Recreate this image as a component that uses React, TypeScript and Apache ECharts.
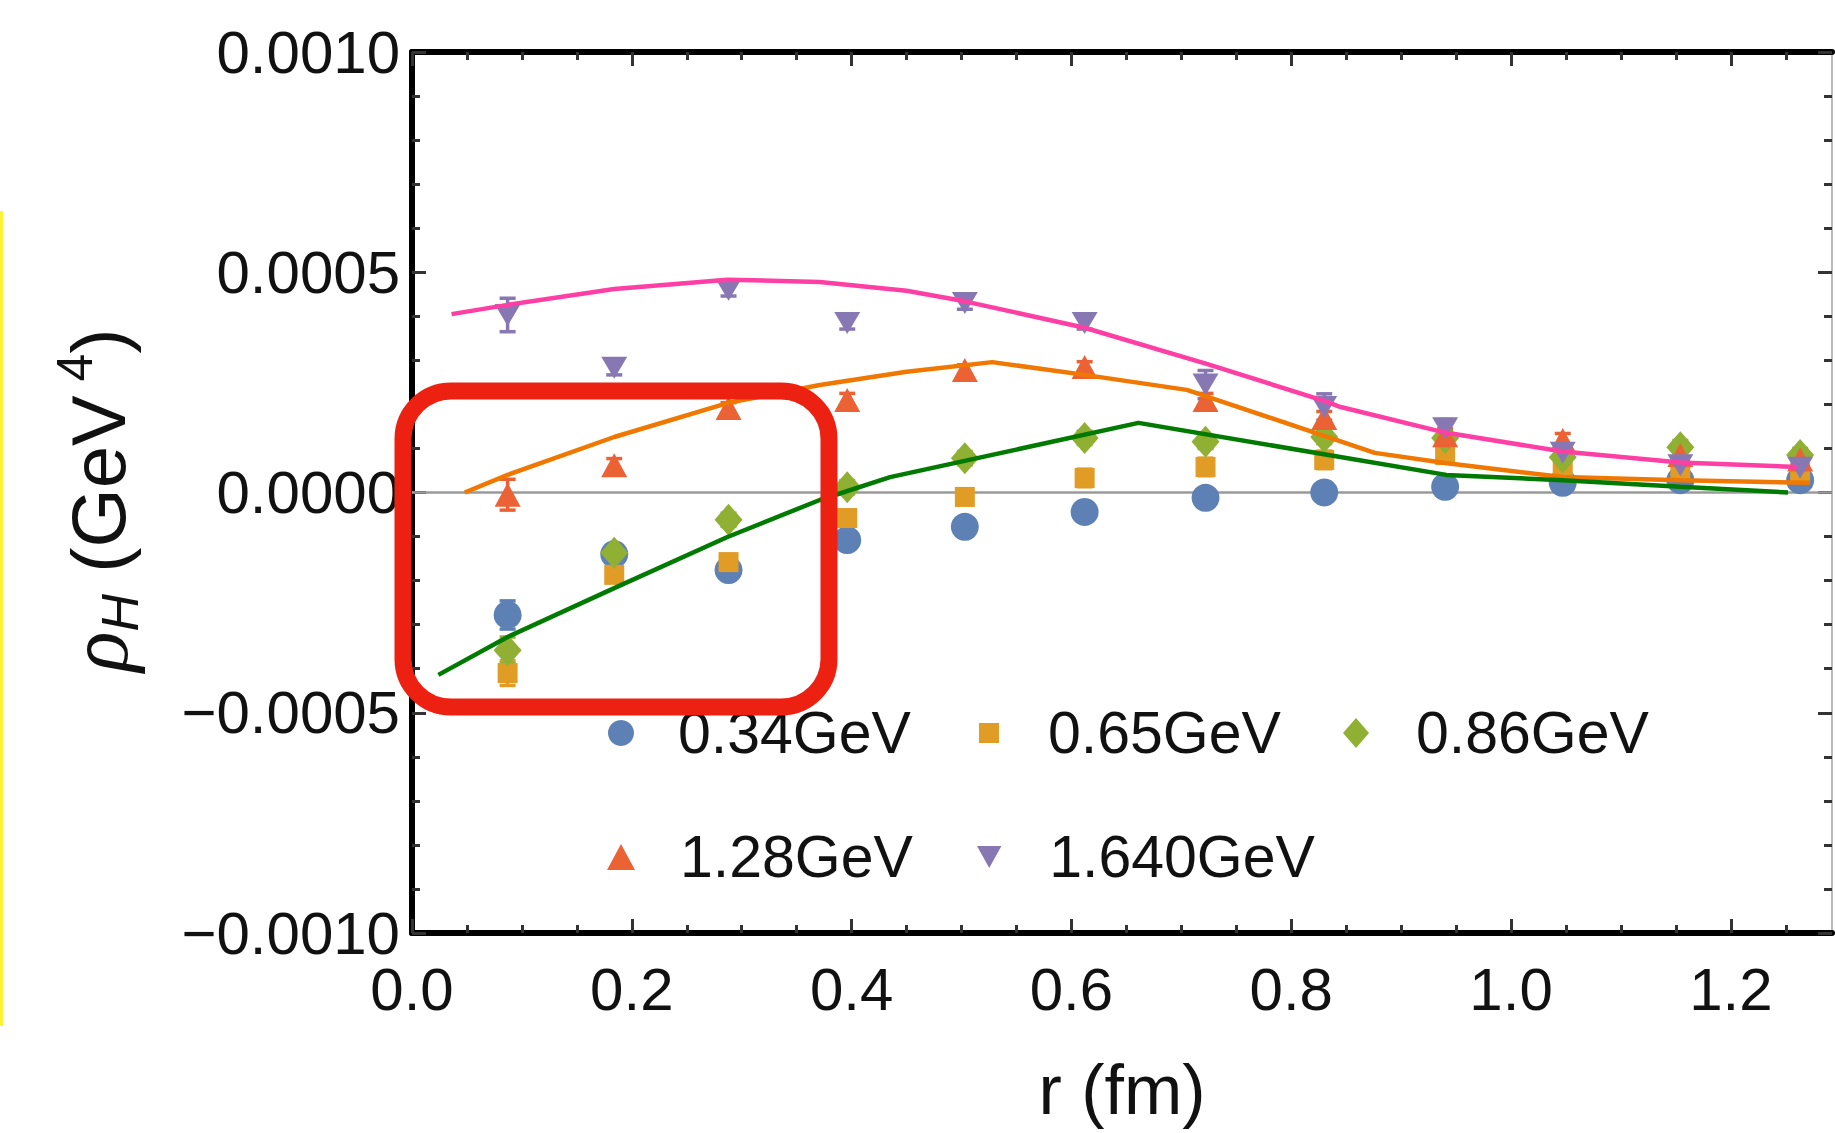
import React, { useEffect, useRef } from "react";
import * as echarts from "echarts";

// r (fm) of the lattice points
const R = [0.087, 0.184, 0.288, 0.396, 0.503, 0.612, 0.722, 0.83, 0.94, 1.047, 1.154, 1.263];

// rho_H values in units of 1e-4 GeV^4
const V_034 = [-2.78, -1.4, -1.76, -1.08, -0.78, -0.44, -0.12, 0.0, 0.13, 0.22, 0.28, 0.28];
const E_034 = [0.32, 0.12, 0.12, 0.12, 0.12, 0.12, 0.12, 0.12, 0.12, 0.12, 0.12, 0.12];
const V_065 = [-4.1, -1.87, -1.58, -0.58, -0.1, 0.33, 0.58, 0.74, 0.85, 0.58, 0.5, 0.45];
const E_065 = [0.28, 0.15, 0.15, 0.15, 0.18, 0.2, 0.2, 0.2, 0.15, 0.12, 0.12, 0.12];
const V_086 = [-3.58, -1.37, -0.62, 0.12, 0.78, 1.24, 1.15, 1.26, 1.24, 0.8, 1.03, 0.85];
const E_086 = [0.3, 0.15, 0.15, 0.15, 0.15, 0.15, 0.15, 0.15, 0.15, 0.15, 0.15, 0.15];
const V_128 = [-0.05, 0.62, 1.92, 2.1, 2.78, 2.85, 2.1, 1.69, 1.3, 1.19, 0.85, 0.75];
const E_128 = [0.35, 0.15, 0.12, 0.15, 0.12, 0.12, 0.15, 0.15, 0.15, 0.15, 0.15, 0.15];
const V_164 = [4.03, 2.83, 4.6, 3.85, 4.3, 3.85, 2.45, 1.94, 1.46, 0.9, 0.62, 0.56];
const E_164 = [0.38, 0.16, 0.14, 0.14, 0.14, 0.14, 0.32, 0.3, 0.2, 0.15, 0.15, 0.15];

// model curves [r, value(1e-4)]
const PINK_LINE = [
  [0.036, 4.05], [0.087, 4.26], [0.184, 4.62], [0.287, 4.83], [0.371, 4.78], [0.45, 4.58],
  [0.503, 4.34], [0.612, 3.74], [0.723, 2.92], [0.83, 2.08], [0.845, 1.94], [0.94, 1.36],
  [1.047, 0.93], [1.154, 0.68], [1.26, 0.58],
];
const ORANGE_LINE = [
  [0.048, 0.0], [0.087, 0.4], [0.184, 1.26], [0.287, 2.03], [0.371, 2.44], [0.45, 2.74],
  [0.528, 2.96], [0.612, 2.67], [0.705, 2.33], [0.876, 0.9], [0.94, 0.67], [1.047, 0.35],
  [1.154, 0.28], [1.272, 0.22],
];
const GREEN_LINE = [
  [0.024, -4.14], [0.087, -3.28], [0.184, -2.17], [0.287, -1.01], [0.371, -0.17], [0.435, 0.35],
  [0.661, 1.58], [0.941, 0.4], [1.047, 0.28], [1.154, 0.13], [1.252, 0.0],
];

const X_MAJOR = [0, 0.2, 0.4, 0.6, 0.8, 1.0, 1.2];
const X_MINOR = [0.05, 0.1, 0.15, 0.25, 0.3, 0.35, 0.45, 0.5, 0.55, 0.65, 0.7, 0.75, 0.85, 0.9, 0.95, 1.05, 1.1, 1.15, 1.25];
const Y_MAJOR = [-10, -5, 0, 5, 10];
const Y_MINOR = [-9, -8, -7, -6, -4, -3, -2, -1, 1, 2, 3, 4, 6, 7, 8, 9];

const NAMES = ["0.34GeV", "0.65GeV", "0.86GeV", "1.28GeV", "1.640GeV"];

const FONT = "Liberation Sans";
const DOWN_TRI = "path://M0,0 L10,0 L5,9 Z";

export default function App() {
  const ref = useRef<HTMLDivElement>(null);
  useEffect(() => {
    if (!ref.current) return;
    const chart = echarts.init(ref.current, undefined, { renderer: "svg" });

    const sets = [
      { name: NAMES[0], v: V_034, e: E_034, color: "#5E81B5", symbol: "circle", size: 28 as any },
      { name: NAMES[1], v: V_065, e: E_065, color: "#E09C24", symbol: "rect", size: 20 as any },
      { name: NAMES[2], v: V_086, e: E_086, color: "#8FB032", symbol: "diamond", size: [28, 32] as any },
      { name: NAMES[3], v: V_128, e: E_128, color: "#EB6235", symbol: "triangle", size: [26, 24] as any },
      { name: NAMES[4], v: V_164, e: E_164, color: "#8778B3", symbol: DOWN_TRI, size: [26, 22] as any },
    ];

    const series: any[] = [];
    sets.forEach((s, k) => {
      series.push({
        type: "custom",
        name: "err" + k,
        xAxisIndex: 0,
        yAxisIndex: 0,
        z: 2,
        silent: true,
        data: R.map((r, i) => [r, s.v[i], s.e[i]]),
        encode: { x: 0, y: 1 },
        renderItem: (params: any, api: any) => {
          const x = api.value(0);
          const y = api.value(1);
          const e = api.value(2);
          const top = api.coord([x, y + e]);
          const bot = api.coord([x, y - e]);
          const hw = 8;
          const style = { stroke: s.color, lineWidth: 3.5 };
          return {
            type: "group",
            children: [
              { type: "line", shape: { x1: top[0], y1: top[1], x2: bot[0], y2: bot[1] }, style },
              { type: "line", shape: { x1: top[0] - hw, y1: top[1], x2: top[0] + hw, y2: top[1] }, style },
              { type: "line", shape: { x1: bot[0] - hw, y1: bot[1], x2: bot[0] + hw, y2: bot[1] }, style },
            ],
          };
        },
      });
      const sc: any = {
        type: "scatter",
        name: s.name,
        xAxisIndex: 0,
        yAxisIndex: 0,
        z: 3,
        symbol: s.symbol,
        symbolSize: s.size,
        itemStyle: { color: s.color, opacity: 1 },
        data: R.map((r, i) => [r, s.v[i]]),
      };
      if (k === 0) {
        sc.markLine = {
          silent: true,
          symbol: "none",
          z: 1,
          label: { show: false },
          lineStyle: { color: "#9a9a9a", width: 2.5, type: "solid" },
          data: [{ yAxis: 0 }],
        };
      }
      series.push(sc);
    });

    const lines = [
      { data: PINK_LINE, color: "#FF3FA4" },
      { data: ORANGE_LINE, color: "#F07800" },
      { data: GREEN_LINE, color: "#007A00" },
    ];
    lines.forEach((l, k) => {
      series.push({
        type: "line",
        name: "model" + k,
        xAxisIndex: 0,
        yAxisIndex: 0,
        z: 5,
        silent: true,
        showSymbol: false,
        symbol: "none",
        smooth: false,
        lineStyle: { color: l.color, width: 4.5 },
        data: l.data,
      });
    });

    const legendItems = [
      { name: NAMES[0], cx: 621, cy: 733, w: 26, h: 26, icon: "circle", tx: 678 },
      { name: NAMES[1], cx: 989, cy: 733, w: 20, h: 20, icon: "rect", tx: 1048 },
      { name: NAMES[2], cx: 1356, cy: 733, w: 26, h: 30, icon: "diamond", tx: 1416 },
      { name: NAMES[3], cx: 621, cy: 857, w: 28, h: 26, icon: "triangle", tx: 680 },
      { name: NAMES[4], cx: 990, cy: 857, w: 26, h: 22, icon: DOWN_TRI, tx: 1050 },
    ];
    const legend = legendItems.map((it) => ({
      show: true,
      left: it.cx - it.w / 2,
      top: it.cy - 30,
      padding: 0,
      itemWidth: it.w,
      itemHeight: it.h,
      selectedMode: false,
      data: [{ name: it.name, icon: it.icon }],
      textStyle: {
        fontFamily: FONT,
        fontSize: 59,
        lineHeight: 60,
        color: "#111",
        padding: [0, 0, 0, it.tx - it.cx - it.w / 2 - 5],
      },
    }));

    const axisBlack = { color: "#000", width: 6 };
    const tickStyle = { color: "#333", width: 3 };
    const noSplit = { show: false };

    const xAxes: any[] = [
      {
        type: "value", min: 0, max: 1.292, position: "bottom",
        axisLine: { show: true, onZero: false, lineStyle: axisBlack },
        axisTick: { show: true, inside: true, length: 14, lineStyle: tickStyle, customValues: X_MAJOR },
        axisLabel: {
          show: true, customValues: X_MAJOR, margin: 26, color: "#111", fontFamily: FONT, fontSize: 60,
          formatter: (v: number) => v.toFixed(1),
        },
        splitLine: noSplit,
      },
      {
        type: "value", min: 0, max: 1.292, position: "bottom",
        axisLine: { show: false, onZero: false },
        axisTick: { show: true, inside: true, length: 8, lineStyle: tickStyle, customValues: X_MINOR },
        axisLabel: { show: false },
        splitLine: noSplit,
      },
      {
        type: "value", min: 0, max: 1.292, position: "top",
        axisLine: { show: true, onZero: false, lineStyle: axisBlack },
        axisTick: { show: true, inside: true, length: 14, lineStyle: tickStyle, customValues: X_MAJOR },
        axisLabel: { show: false },
        splitLine: noSplit,
      },
      {
        type: "value", min: 0, max: 1.292, position: "top",
        axisLine: { show: false, onZero: false },
        axisTick: { show: true, inside: true, length: 8, lineStyle: tickStyle, customValues: X_MINOR },
        axisLabel: { show: false },
        splitLine: noSplit,
      },
    ];

    const yAxes: any[] = [
      {
        type: "value", min: -10, max: 10, position: "left",
        axisLine: { show: true, onZero: false, lineStyle: axisBlack },
        axisTick: { show: true, inside: true, length: 14, lineStyle: tickStyle, customValues: Y_MAJOR },
        axisLabel: {
          show: true, customValues: Y_MAJOR, margin: 12, color: "#111", fontFamily: FONT, fontSize: 60,
          formatter: (v: number) => (v / 10000).toFixed(4).replace("-", "\u2212"),
        },
        splitLine: noSplit,
      },
      {
        type: "value", min: -10, max: 10, position: "left",
        axisLine: { show: false, onZero: false },
        axisTick: { show: true, inside: true, length: 8, lineStyle: tickStyle, customValues: Y_MINOR },
        axisLabel: { show: false },
        splitLine: noSplit,
      },
      {
        type: "value", min: -10, max: 10, position: "right",
        axisLine: { show: true, onZero: false, lineStyle: { color: "#bbb", width: 2 } },
        axisTick: { show: true, inside: true, length: 14, lineStyle: tickStyle, customValues: Y_MAJOR },
        axisLabel: { show: false },
        splitLine: noSplit,
      },
      {
        type: "value", min: -10, max: 10, position: "right",
        axisLine: { show: false, onZero: false },
        axisTick: { show: true, inside: true, length: 8, lineStyle: tickStyle, customValues: Y_MINOR },
        axisLabel: { show: false },
        splitLine: noSplit,
      },
    ];

    chart.setOption({
      animation: false,
      backgroundColor: "#fff",
      grid: { left: 412, right: 3, top: 52, bottom: 200, containLabel: false, outerBoundsMode: "none" },
      xAxis: xAxes,
      yAxis: yAxes,
      legend,
      series,
      graphic: [
        {
          type: "rect",
          z: 200,
          silent: true,
          shape: { x: 0, y: 211, width: 3, height: 815 },
          style: { fill: "#FFF133" },
        },
        {
          type: "text",
          z: 100,
          silent: true,
          x: 98,
          y: 500,
          rotation: Math.PI / 2,
          style: {
            text: "{i|\u03C1}{s|H}{n| (GeV}{p| 4}{n|)}",
            align: "center",
            verticalAlign: "middle",
            fill: "#111",
            rich: {
              i: { fontFamily: "Liberation Serif", fontStyle: "italic", fontSize: 84, lineHeight: 96, fill: "#111" },
              s: { fontFamily: FONT, fontStyle: "italic", fontSize: 52, lineHeight: 52, verticalAlign: "bottom", fill: "#111" },
              n: { fontFamily: FONT, fontSize: 76, lineHeight: 96, fill: "#111" },
              p: { fontFamily: FONT, fontSize: 50, lineHeight: 50, verticalAlign: "top", fill: "#111" },
            },
          },
        },
        {
          type: "text",
          z: 100,
          silent: true,
          x: 1122,
          y: 1090,
          style: {
            text: "r (fm)",
            align: "center",
            verticalAlign: "middle",
            fontFamily: FONT,
            fontSize: 70,
            lineHeight: 72,
            fill: "#111",
          },
        },
        {
          type: "rect",
          z: 300,
          silent: true,
          shape: { x: 403, y: 391, width: 426, height: 316, r: 48 },
          style: { fill: "none", stroke: "#EC2111", lineWidth: 17 },
        },
      ],
    });

    return () => chart.dispose();
  }, []);

  return (
    <div
      ref={ref}
      style={{ position: "absolute", left: 0, top: 0, width: 1835, height: 1133, background: "#fff" }}
    />
  );
}
